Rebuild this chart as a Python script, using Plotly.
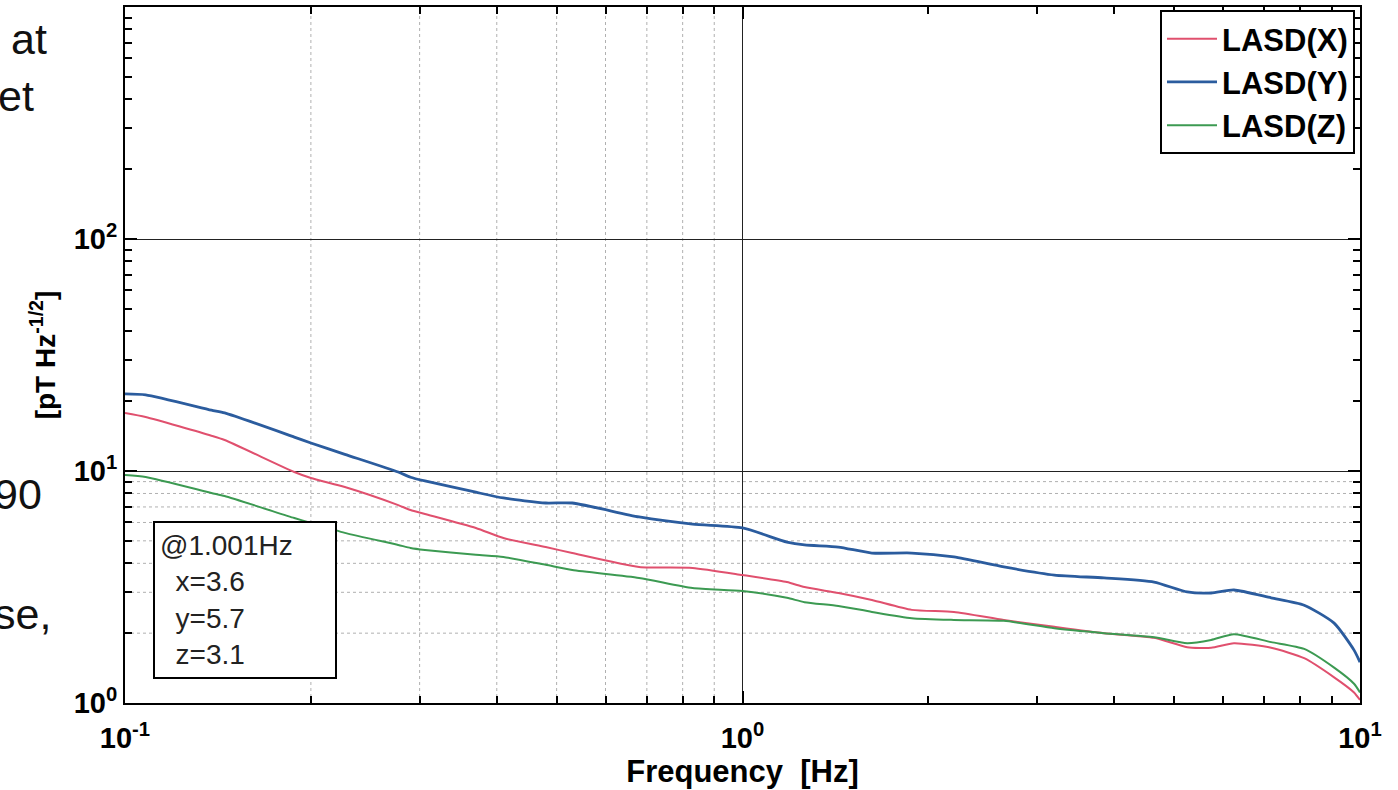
import plotly.graph_objects as go

# ---- data ----
freq = [0.1, 0.108, 0.138, 0.145, 0.188, 0.2, 0.227, 0.277, 0.29, 0.306, 0.37, 0.41,
        0.48, 0.53, 0.68, 0.83, 1.0, 1.18, 1.26, 1.43, 1.62, 1.88, 2.2, 2.65, 3.2,
        3.85, 4.64, 5.25, 5.74, 6.25, 7.18, 8.12, 9.08, 9.78, 10.0]
lasd_x = [17.8, 17.1, 14.2, 13.6, 9.9, 9.33, 8.53, 7.13, 6.79, 6.53, 5.68, 5.14,
          4.70, 4.43, 3.86, 3.82, 3.56, 3.32, 3.16, 2.98, 2.78, 2.52, 2.47, 2.28, 2.13,
          2.00, 1.91, 1.74, 1.73, 1.81, 1.73, 1.56, 1.29, 1.11, 1.03]
lasd_y = [21.5, 21.3, 18.3, 17.8, 14.0, 13.2, 11.8, 9.9, 9.4, 9.06, 8.1, 7.65,
          7.28, 7.28, 6.34, 5.9, 5.68, 4.94, 4.80, 4.70, 4.43, 4.43, 4.26, 3.86, 3.56,
          3.46, 3.32, 3.01, 2.98, 3.07, 2.84, 2.64, 2.21, 1.69, 1.50]
lasd_z = [9.6, 9.42, 8.04, 7.80, 6.27, 5.97, 5.41, 4.80, 4.66, 4.57, 4.35, 4.26,
          3.94, 3.74, 3.46, 3.13, 3.04, 2.84, 2.72, 2.62, 2.47, 2.32, 2.28, 2.26, 2.10,
          2.00, 1.92, 1.81, 1.87, 1.98, 1.83, 1.71, 1.42, 1.21, 1.11]
series_names = ["LASD(X)", "LASD(Y)", "LASD(Z)"]

x_major = [0.1, 1, 10]
x_major_text = ["10<sup>-1</sup>", "10<sup>0</sup>", "10<sup>1</sup>"]
y_major = [1, 10, 100]
y_major_text = ["10<sup>0</sup>", "10<sup>1</sup>", "10<sup>2</sup>"]
x_minor = [0.2, 0.3, 0.4, 0.5, 0.6, 0.7, 0.8, 0.9, 2, 3, 4, 5, 6, 7, 8, 9]
y_minor = [2, 3, 4, 5, 6, 7, 8, 9, 20, 30, 40, 50, 60, 70, 80, 90,
           200, 300, 400, 500, 600, 700, 800, 900]
x_minor_grid = [0.2, 0.3, 0.4, 0.5, 0.6, 0.7, 0.8, 0.9]
y_minor_grid = [2, 3, 4, 5, 6, 7, 8, 9]

FONT = "Liberation Sans, Arial, sans-serif"

fig = go.Figure()
fig.add_trace(go.Scatter(x=freq, y=lasd_x, mode="lines", name=series_names[0],
                         line=dict(color="#e0506e", width=2, shape="spline", smoothing=0.6)))
fig.add_trace(go.Scatter(x=freq, y=lasd_y, mode="lines", name=series_names[1],
                         line=dict(color="#2b5c9e", width=2.8, shape="spline", smoothing=0.6)))
fig.add_trace(go.Scatter(x=freq, y=lasd_z, mode="lines", name=series_names[2],
                         line=dict(color="#3c9a52", width=2, shape="spline", smoothing=0.6)))

# faint dotted minor grid (visible only in left decade / bottom decade in the reference)
for v in x_minor_grid:
    fig.add_shape(type="line", xref="x", yref="paper", x0=v, x1=v, y0=0, y1=1,
                  line=dict(color="#b0b0b0", width=1, dash="dot"), layer="below")
for v in y_minor_grid:
    fig.add_shape(type="line", xref="paper", yref="y", x0=0, x1=1, y0=v, y1=v,
                  line=dict(color="#b0b0b0", width=1, dash="dot"), layer="below")

fig.update_xaxes(
    type="log", range=[-1, 1],
    tickmode="array", tickvals=x_major, ticktext=x_major_text,
    ticks="inside", ticklen=12, tickwidth=1.5, tickcolor="black",
    ticklabelstandoff=8,
    showgrid=True, gridcolor="#222222", gridwidth=1.3,
    showline=True, linecolor="black", linewidth=2, mirror="ticks",
    tickfont=dict(family=FONT, size=29, color="black", weight="bold"),
    minor=dict(tickmode="array", tickvals=x_minor, ticks="inside", ticklen=7,
               tickcolor="black", showgrid=False),
    title=dict(text="Frequency&nbsp;&nbsp;[Hz]", standoff=2,
               font=dict(family=FONT, size=31, color="black", weight="bold")),
    zeroline=False,
)
fig.update_yaxes(
    type="log", range=[0, 3],
    tickmode="array", tickvals=y_major, ticktext=y_major_text,
    ticks="inside", ticklen=12, tickwidth=1.5, tickcolor="black",
    showgrid=True, gridcolor="#222222", gridwidth=1.3,
    showline=True, linecolor="black", linewidth=2, mirror="ticks",
    tickfont=dict(family=FONT, size=29, color="black", weight="bold"),
    minor=dict(tickmode="array", tickvals=y_minor, ticks="inside", ticklen=7,
               tickcolor="black", showgrid=False),
    title=dict(text="[pT Hz<sup>-1/2</sup>]", standoff=10,
               font=dict(family=FONT, size=28, color="black", weight="bold")),
    zeroline=False,
)

fig.add_annotation(
    xref="paper", yref="paper", x=(153 - 125) / 1235, y=(703 - 520) / 698,
    xanchor="left", yanchor="top", showarrow=False, align="left",
    text="@1.001Hz<br>&nbsp;&nbsp;x=3.6<br>&nbsp;&nbsp;y=5.7<br>&nbsp;&nbsp;z=3.1",
    font=dict(family=FONT, size=28, color="#222222"),
    bordercolor="black", borderwidth=2, borderpad=5, bgcolor="white",
    width=170, height=144, valign="middle",
)

# fragments of the surrounding page text visible at the left edge
for txt, px, py in [("at", 9, 37), ("et", -4, 94), ("90", -8, 493), ("se,", -8, 614)]:
    fig.add_annotation(xref="paper", yref="paper", x=(px - 125) / 1235,
                       y=(703 - py) / 698, xanchor="left", yanchor="middle",
                       showarrow=False, text=txt,
                       font=dict(family=FONT, size=43, color="#111111"))

fig.update_layout(
    width=1398, height=790,
    margin=dict(l=125, r=38, t=5, b=87),
    paper_bgcolor="white", plot_bgcolor="white",
    legend=dict(
        x=(1355 - 125) / 1235, y=(703 - 8) / 698, xanchor="right", yanchor="top",
        bordercolor="black", borderwidth=2, bgcolor="white",
        font=dict(family=FONT, size=31, color="black", weight="bold"),
        itemwidth=50, tracegroupgap=0,
    ),
    showlegend=True,
)

fig.write_html("out.html", config={"displayModeBar": False},
               post_script="document.body.style.margin='0';")
